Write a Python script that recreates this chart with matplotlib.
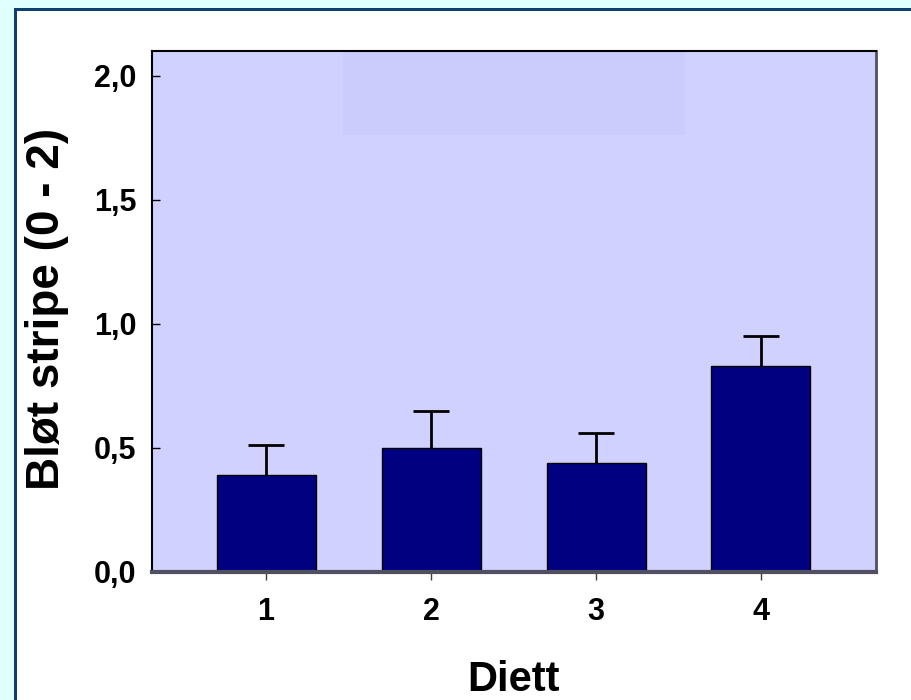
import numpy as np
import matplotlib.pyplot as plt
from matplotlib.patches import Rectangle

plt.rcParams['font.family'] = 'Liberation Sans'
plt.rcParams['font.weight'] = 'bold'

diett = [1, 2, 3, 4]
mean = [0.39, 0.50, 0.44, 0.83]
se = [0.12, 0.15, 0.12, 0.12]
yticks = [0.0, 0.5, 1.0, 1.5, 2.0]
ytick_labels = ['0,0', '0,5', '1,0', '1,5', '2,0']

fig = plt.figure(figsize=(9.11, 7), dpi=100)
fig.patch.set_facecolor('white')

# cyan frame on top/left with dark blue border line
W, H = 911, 700
fig.patches.append(Rectangle((0, 0), 14 / W, 1, transform=fig.transFigure,
                             facecolor='#E0FFFF', edgecolor='none', zorder=0))
fig.patches.append(Rectangle((0, 1 - 8 / H), 1, 8 / H, transform=fig.transFigure,
                             facecolor='#E0FFFF', edgecolor='none', zorder=0))
fig.patches.append(Rectangle((14 / W, 0), 3 / W, 1 - 8 / H, transform=fig.transFigure,
                             facecolor='#0F3F6F', edgecolor='none', zorder=1))
fig.patches.append(Rectangle((14 / W, 1 - 11 / H), 1, 3 / H, transform=fig.transFigure,
                             facecolor='#0F3F6F', edgecolor='none', zorder=1))

ax = fig.add_axes([152 / W, 1 - 572 / H, 724 / W, 521 / H])
ax.set_facecolor('#D1D1FF')

# faint leftover legend box
ax.add_patch(Rectangle((1.467, 1.762), 2.072, 0.335,
                       facecolor='#CBCBFC', edgecolor='none', zorder=0))

ax.bar(diett, mean, width=0.6, color='#000080', edgecolor='black', linewidth=1, zorder=2)
eb = ax.errorbar(diett, mean, yerr=[np.zeros(len(se)), se], fmt='none', ecolor='black',
                 elinewidth=2, capsize=13, capthick=2, zorder=3)
eb[1][0].set_visible(False)  # no cap at bar top

ax.set_xlim(0.309, 4.697)
ax.set_ylim(0, 2.1)
ax.set_xticks(diett)
ax.set_xticklabels([str(d) for d in diett], fontsize=22, fontweight='bold')
ax.set_yticks(yticks)
ax.set_yticklabels(ytick_labels, fontsize=22, fontweight='bold')
ax.tick_params(axis='y', direction='in', length=6, width=1, pad=11)
ax.tick_params(axis='x', direction='out', length=6, width=1, pad=12, color='#404040')

ax.spines['top'].set_linewidth(1.5)
ax.spines['left'].set_linewidth(1.5)
ax.spines['right'].set_linewidth(2)
ax.spines['right'].set_color('#505060')
ax.spines['bottom'].set_linewidth(3)
ax.spines['bottom'].set_color('#505060')

ax.set_xlabel('Diett', fontsize=30, fontweight='bold', labelpad=24)
ax.set_ylabel('Bløt stripe (0 - 2)', fontsize=33, fontweight='bold')
ax.yaxis.set_label_coords(-0.115, 0.505)

fig.savefig('out.png', dpi=100)
